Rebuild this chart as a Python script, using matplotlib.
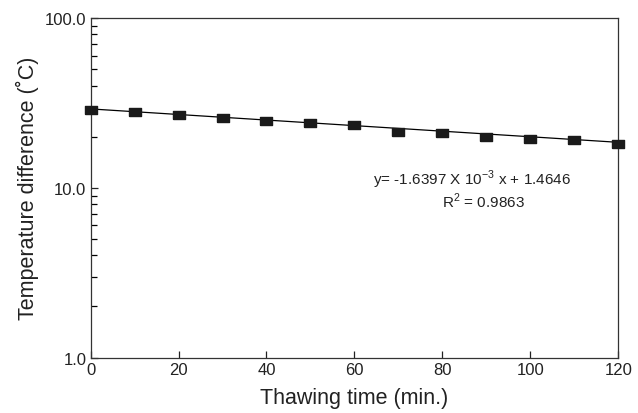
import numpy as np
import matplotlib
matplotlib.use('Agg')
import matplotlib.pyplot as plt
from matplotlib.ticker import LogLocator, FixedLocator, FormatStrFormatter, NullFormatter

plt.rcParams['font.family'] = ['Liberation Sans', 'DejaVu Sans']
plt.rcParams['mathtext.fontset'] = 'custom'
plt.rcParams['mathtext.rm'] = 'Liberation Sans'

# tempo de descongelamento (min) e diferenca de temperatura (C)
tempo = [0, 10, 20, 30, 40, 50, 60, 70, 80, 90, 100, 110, 120]
delta_t = [28.6, 27.9, 26.8, 25.7, 24.9, 24.0, 23.4, 21.4, 21.0, 19.9, 19.4, 19.0, 18.0]

# ajuste linear em log10(y)
inclinacao = -1.6397e-3
intercepto = 1.4646
r2 = 0.9863

fig = plt.figure(figsize=(6.38, 4.14), dpi=100)
ax = fig.add_axes([0.142, 0.134, 0.827, 0.820])

x_fit = np.array([0, 120])
y_fit = 10 ** (inclinacao * x_fit + intercepto)
ax.plot(x_fit, y_fit, color='black', linewidth=0.9)

# marcador retangular (mais largo que alto)
retangulo = [(-1, -0.65), (1, -0.65), (1, 0.65), (-1, 0.65), (-1, -0.65)]
ax.plot(tempo, delta_t, linestyle='none', marker=retangulo, markersize=8.5,
        color='#1a1a1a', clip_on=False, zorder=3)

ax.set_yscale('log')
ax.set_xlim(0, 120)
ax.set_ylim(1, 100)
ax.xaxis.set_major_locator(FixedLocator([0, 20, 40, 60, 80, 100, 120]))
ax.yaxis.set_major_locator(FixedLocator([1, 10, 100]))
ax.yaxis.set_major_formatter(FormatStrFormatter('%.1f'))
ax.yaxis.set_minor_locator(LogLocator(base=10, subs=np.arange(2, 10)))
ax.yaxis.set_minor_formatter(NullFormatter())

ax.tick_params(axis='both', which='major', direction='in', length=5, width=0.9,
               labelsize=12, colors='#222222', pad=3)
ax.tick_params(axis='y', which='minor', direction='in', length=4, width=0.9)
ax.tick_params(top=False, right=False)
for s in ax.spines.values():
    s.set_linewidth(0.9)
    s.set_color('#333333')

ax.set_xlabel('Thawing time (min.)', fontsize=15.5, color='#222222')
ax.set_ylabel('Temperature difference (˚C)', fontsize=15.5, color='#222222')
ax.xaxis.set_label_coords(0.5, -0.087)
ax.yaxis.set_label_coords(-0.097, 0.5)

# equacao do ajuste (coordenadas em pixels da figura)
ax.text(472, 414 - 185, r'y= -1.6397 X 10$^{\mathregular{-3}}$ x + 1.4646',
        transform=None, fontsize=11, ha='center', va='baseline', color='#222222')
ax.text(483, 414 - 208, r'R$^{\mathregular{2}}$ = ' + f'{r2:.4f}',
        transform=None, fontsize=11, ha='center', va='baseline', color='#222222')

fig.savefig('out.png', dpi=100)
